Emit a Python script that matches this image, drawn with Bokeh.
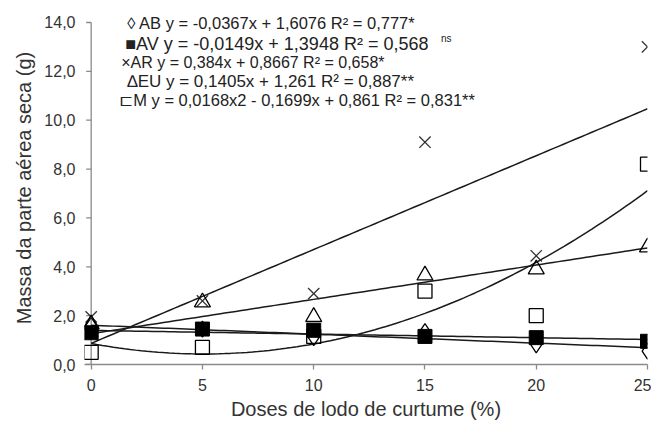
import numpy as np
from bokeh.plotting import figure
from bokeh.models import Range1d, Label, FixedTicker, CustomJSTickFormatter
from bokeh.embed import file_html
from bokeh.resources import INLINE

# --- data ---------------------------------------------------------------
doses = [0, 5, 10, 15, 20, 25]
ab = [1.60, 1.45, 1.10, 1.35, 0.80, 0.55]
av = [1.30, 1.45, 1.40, 1.15, 1.10, 0.95]
ar = [1.95, 2.60, 2.90, 9.10, 4.45, 13.00]
eu = [1.65, 2.55, 1.95, 3.65, 3.90, 4.80]
m = [0.50, 0.70, 1.15, 3.00, 2.00, 8.20]

# regression coefficients (a2, a1, a0) as printed on the chart
coef_ab = [0.0, -0.0367, 1.6076]
coef_av = [0.0, -0.0149, 1.3948]
coef_ar = [0.0, 0.384, 0.8667]
coef_eu = [0.0, 0.1405, 1.261]
coef_m = [0.0168, -0.1699, 0.861]

legend_lines = [
    "\u25CA AB y = -0,0367x + 1,6076 R\u00b2 = 0,777*",
    "\u25A0AV  y = -0,0149x +  1,3948 R\u00b2 = 0,568",
    "\u00d7AR y = 0,384x + 0,8667 R\u00b2 = 0,658*",
    "\u2206EU y = 0,1405x + 1,261 R\u00b2 = 0,887**",
    "\u228FM  y = 0,0168x2 - 0,1699x + 0,861 R\u00b2 = 0,831**",
]

y_ticks = [0, 2, 4, 6, 8, 10, 12, 14]
x_ticks = [0, 5, 10, 15, 20, 25]

FONT = "Liberation Sans"
AXIS_GREY = "#8a8a8a"
TEXT = "#333333"

p = figure(width=651, height=429, x_range=Range1d(-0.3, 25), y_range=Range1d(0, 14.45),
           output_backend="svg", toolbar_location=None,
           min_border_left=84, min_border_right=4, min_border_top=11, min_border_bottom=65)
p.outline_line_color = None
p.grid.visible = False
p.background_fill_color = "white"
p.border_fill_color = "white"

# axes
p.xaxis.ticker = FixedTicker(ticks=x_ticks)
p.yaxis.ticker = FixedTicker(ticks=y_ticks)
p.yaxis.formatter = CustomJSTickFormatter(code="return tick.toFixed(1).replace('.', ',');")
for ax in (p.xaxis[0], p.yaxis[0]):
    ax.axis_line_color = AXIS_GREY
    ax.axis_line_width = 1.3
    ax.major_tick_line_color = AXIS_GREY
    ax.major_tick_line_width = 1.3
    ax.major_tick_in = 0
    ax.major_tick_out = 5
    ax.minor_tick_line_color = None
    ax.major_label_text_font = FONT
    ax.major_label_text_font_size = "16px"
    ax.major_label_text_color = TEXT
    ax.axis_label_text_font = FONT
    ax.axis_label_text_font_size = "20px"
    ax.axis_label_text_font_style = "normal"
    ax.axis_label_text_color = TEXT
# the y axis spine and ticks are drawn at x = 0 below
p.yaxis.axis_line_color = None
p.yaxis.major_tick_line_color = None
p.yaxis.major_tick_out = 0
p.xaxis.major_label_standoff = 9
p.yaxis.major_label_standoff = 9
p.xaxis.axis_label = "Doses de lodo de curtume (%)"
p.yaxis.axis_label = "Massa da parte a\u00e9rea seca (g)"
p.xaxis.axis_label_standoff = 4
p.yaxis.axis_label_standoff = 6

p.segment(x0=[0], y0=[y_ticks[0]], x1=[0], y1=[y_ticks[-1]], line_color=AXIS_GREY, line_width=1.3)
p.segment(x0=[-0.225] * len(y_ticks), y0=y_ticks, x1=[0] * len(y_ticks), y1=y_ticks,
          line_color=AXIS_GREY, line_width=1.3)

# trend lines
xs = np.linspace(0, 25, 101)
for c in (coef_ab, coef_av, coef_ar, coef_eu, coef_m):
    p.line(xs, np.polyval(c, xs), line_color="#1a1a1a", line_width=1.5)

# markers
p.scatter(doses, ab, marker="diamond", size=16, fill_color=None, line_color="black", line_width=1.3)
p.scatter(doses, av, marker="square", size=14, fill_color="black", line_color="black")
p.scatter(doses, ar, marker="x", size=16, line_color="#333333", line_width=1.3)
p.scatter(doses, eu, marker="triangle", size=16, fill_color=None, line_color="black", line_width=1.3)
p.scatter(doses, m, marker="square", size=14, fill_color=None, line_color="black", line_width=1.3)

# equation legend
leg_x = [1.62, 1.53, 1.35, 1.62, 1.26]
leg_y = [13.96, 13.14, 12.36, 11.58, 10.81]
leg_size = ["16.5px", "18px", "16px", "17px", "16.5px"]
for i, t in enumerate(legend_lines):
    p.add_layout(Label(x=leg_x[i], y=leg_y[i], text=t, text_font=FONT,
                       text_font_size=leg_size[i], text_color="#222222", text_baseline="middle"))
p.add_layout(Label(x=15.72, y=13.34, text="ns", text_font=FONT, text_font_size="10px",
                   text_color="#222222", text_baseline="middle"))

open("out.html", "w").write(file_html(p, INLINE))
